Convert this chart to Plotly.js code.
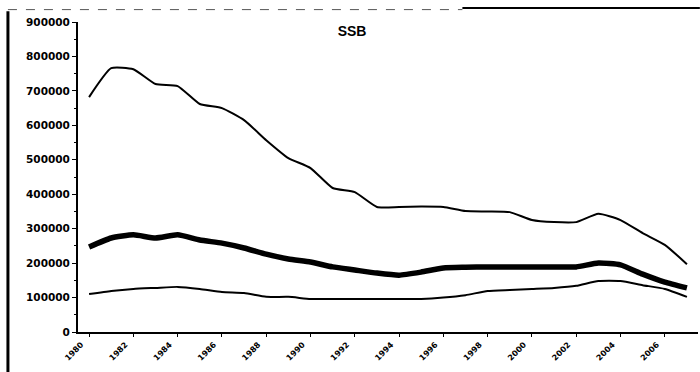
<!DOCTYPE html>
<html>
<head>
<meta charset="utf-8">
<script src="https://cdn.plot.ly/plotly-3.0.1.min.js"></script>
<style>html,body{margin:0;padding:0;background:#fff;}#chart{width:700px;height:372px;}</style>
</head>
<body>
<div id="chart"></div>
<script>
// Years (categories), one per point
const years = ["1980","1981","1982","1983","1984","1985","1986","1987","1988","1989",
  "1990","1991","1992","1993","1994","1995","1996","1997","1998","1999",
  "2000","2001","2002","2003","2004","2005","2006","2007"];
// Labelled years (every second one)
const tickYears = ["1980","1982","1984","1986","1988","1990","1992","1994","1996","1998","2000","2002","2004","2006"];
// Upper bound of SSB
const ssbUpper = [682000,766000,763000,720000,714000,662000,650000,615000,557000,505000,
  476000,418000,406000,363000,363000,364000,363000,351000,350000,348000,
  325000,319000,319000,343000,325000,287000,253000,197000];
// Central estimate of SSB
const ssbMid = [247000,273000,282000,273000,282000,267000,258000,244000,226000,212000,
  203000,189000,180000,171000,165000,174000,186000,188000,189000,189000,
  189000,189000,189000,200000,195000,168000,145000,128000];
// Lower bound of SSB
const ssbLower = [110000,119000,125000,128000,131000,125000,116000,113000,102000,102000,
  96000,96000,96000,96000,96000,96000,100000,107000,119000,122000,
  125000,128000,134000,148000,148000,136000,125000,102000];
const yTicks = [0,100000,200000,300000,400000,500000,600000,700000,800000,900000];

const traces = [
  {x: years, y: ssbUpper, mode: "lines", line: {color: "#000", width: 2, shape: "spline", smoothing: 0.5}, hoverinfo: "skip"},
  {x: years, y: ssbMid, mode: "lines", line: {color: "#000", width: 5.5, shape: "spline", smoothing: 0.5}, hoverinfo: "skip"},
  {x: years, y: ssbLower, mode: "lines", line: {color: "#000", width: 2, shape: "spline", smoothing: 0.5}, hoverinfo: "skip"}
];

const layout = {
  width: 700, height: 372,
  margin: {l: 78, r: 2, t: 22, b: 40},
  paper_bgcolor: "#fff", plot_bgcolor: "#fff",
  showlegend: false,
  font: {family: "DejaVu Sans, Liberation Sans, sans-serif", color: "#000", size: 9},
  title: {text: "<b>SSB</b>", xref: "container", x: 0.503, xanchor: "center",
          yref: "container", y: 0.917, yanchor: "middle",
          font: {family: "Liberation Sans, Arial, sans-serif", size: 14, color: "#000"}},
  xaxis: {
    type: "category", tickmode: "array", tickvals: tickYears, ticktext: tickYears,
    range: [-0.5, years.length - 0.5],
    showgrid: false, zeroline: false,
    showline: true, linecolor: "#000", linewidth: 2,
    ticks: "outside", ticklen: 3, tickcolor: "#000",
    tickangle: -45, tickfont: {size: 8, color: "#000", weight: "bold"},
    ticklabelshift: -8
  },
  yaxis: {
    range: [0, 900000], tickmode: "array", tickvals: yTicks,
    ticktext: yTicks.map(String),
    showgrid: false, zeroline: false,
    showline: true, linecolor: "#000", linewidth: 2,
    ticks: "outside", ticklen: 4, tickcolor: "#000",
    tickfont: {size: 10.5, color: "#000", weight: "bold"},
    minor: {dtick: 50000, ticks: "outside", ticklen: 2, tickcolor: "#000"}
  },
  shapes: [
    {type: "line", xref: "paper", yref: "paper", x0: -0.113, x1: -0.113, y0: -0.13, y1: 1.035,
     line: {color: "#000", width: 3}},
    {type: "line", xref: "paper", yref: "paper", x0: -0.113, x1: 0.62, y0: 1.04, y1: 1.04,
     line: {color: "#555", width: 1, dash: "dash"}},
    {type: "line", xref: "paper", yref: "paper", x0: 0.62, x1: 1.003, y0: 1.045, y1: 1.045,
     line: {color: "#000", width: 2}}
  ]
};

Plotly.newPlot("chart", traces, layout, {staticPlot: true, displayModeBar: false});
</script>
</body>
</html>
